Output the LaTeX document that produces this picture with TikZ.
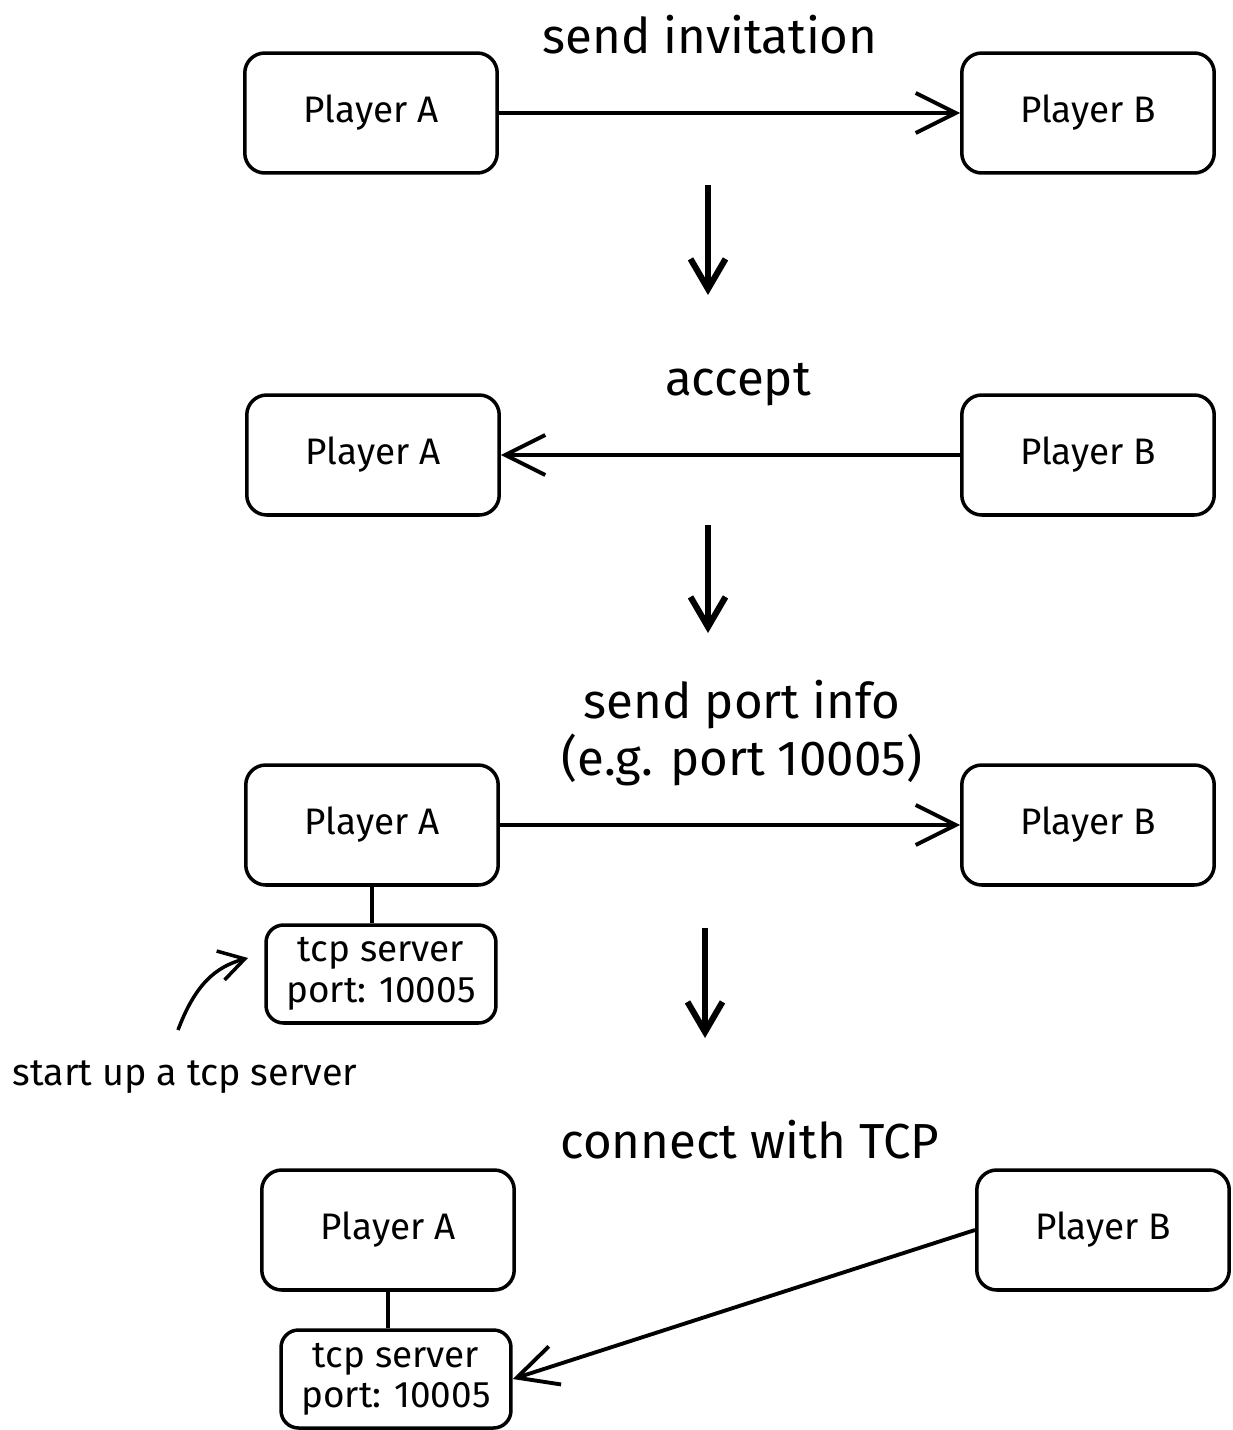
\documentclass[tikz,border=0pt]{standalone}
\usepackage{fontspec}
\setmainfont{Fira Sans}
\usetikzlibrary{arrows.meta}
\begin{document}
\begin{tikzpicture}[x=0.02cm, y=-0.02cm]
\tikzset{
    player/.style={draw, line width=2pt, rounded corners=0.4cm, minimum width=5.05cm, minimum height=2.4cm, font=\fontsize{21}{24}\selectfont},
    server/.style={draw, line width=2pt, rounded corners=0.35cm, minimum width=4.6cm, minimum height=1.96cm, align=center, font=\fontsize{21}{23}\selectfont},
    title/.style={align=center, font=\fontsize{28}{32}\selectfont},
    note/.style={font=\fontsize{21.5}{24}\selectfont},
    msg/.style={line width=2.2pt, -{Straight Barb[length=8mm, width=8mm]}},
    link/.style={line width=2pt},
    step down/.style={line width=3.5pt, -{Straight Barb[length=6mm, width=7mm]}},
}
\useasboundingbox (0,0) rectangle (1233,1430);

% Invitation
\node[title] (t1) at (710,35) {send invitation};
\node[player] (a1) at (371,113) {Player A};
\node[player] (b1) at (1088,113) {Player B};
\draw[msg] (a1) -- (b1);

\coordinate (d1s) at (708,185);
\coordinate (d1e) at (708,295);
\draw[step down] (d1s) -- (d1e);

% Accept
\node[title] (t2) at (738,385) {accept};
\node[player] (a2) at (373,455) {Player A};
\node[player] (b2) at (1088,455) {Player B};
\draw[msg] (b2) -- (a2);

\coordinate (d2s) at (708,525);
\coordinate (d2e) at (708,633);
\draw[step down] (d2s) -- (d2e);

% Port info
\node[title] (t3) at (742,733) {send port info\\(e.g. port 10005)};
\node[player] (a3) at (372,825) {Player A};
\node[player] (b3) at (1088,825) {Player B};
\draw[msg] (a3) -- (b3);
\node[server] (s3) at (381,974) {tcp server\\port: 10005};
\draw[link] (s3.north -| a3) -- (a3.south);

\node[note] (n3) at (185,1077) {start up a tcp server};
\coordinate (c3s) at (178,1030);
\coordinate (c3e) at (248,958);
\draw[line width=2pt, -{Straight Barb[length=5mm, width=6mm]}] (c3s) .. controls (195,985) and (215,967) .. (c3e);

\coordinate (d3s) at (705,928);
\coordinate (d3e) at (705,1038);
\draw[step down] (d3s) -- (d3e);

% TCP connection
\node[title] (t4) at (750,1140) {connect with TCP};
\node[player] (a4) at (388,1230) {Player A};
\node[player] (b4) at (1103,1230) {Player B};
\node[server] (s4) at (396,1379) {tcp server\\port: 10005};
\draw[link] (s4.north -| a4) -- (a4.south);
\draw[msg] (b4.west) -- (s4.east);
\end{tikzpicture}
\end{document}
